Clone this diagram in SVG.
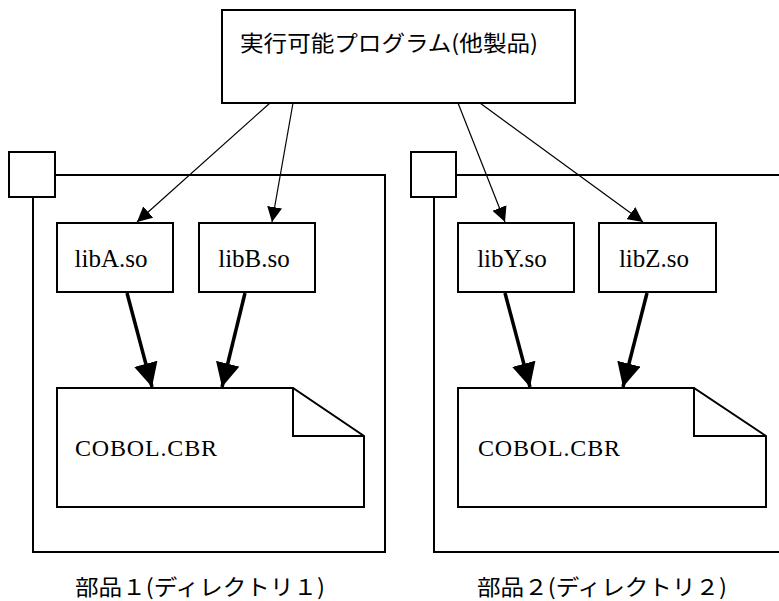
<svg xmlns="http://www.w3.org/2000/svg" width="779" height="601" viewBox="0 0 779 601">
<style>
.box{fill:#fff;stroke:#000;stroke-width:2}
.frame{fill:none;stroke:#000;stroke-width:2}
.jp{font-family:"Noto Sans CJK JP","Noto Sans CJK SC",sans-serif;font-size:22px;fill:#000}
.lib{font-family:"Liberation Serif",serif;font-size:25px;fill:#000;text-anchor:middle}
.mono{font-family:"Liberation Serif",serif;font-size:24px;fill:#000}
.thin{stroke:#000;stroke-width:1.2;fill:none}
.thick{stroke:#000;stroke-width:3.5;fill:none}
</style>
<defs>
<marker id="ah" viewBox="0 0 10 10" refX="10" refY="5" markerWidth="15" markerHeight="15" markerUnits="userSpaceOnUse" orient="auto">
<path d="M0,0 L10,5 L0,10 z" fill="#000"/>
</marker>
<marker id="ahb" viewBox="0 0 10 10" refX="10" refY="5" markerWidth="24" markerHeight="24" markerUnits="userSpaceOnUse" orient="auto">
<path d="M0,0 L10,5 L0,10 z" fill="#000"/>
</marker>
</defs>
<rect width="779" height="601" fill="#fff"/>

<g id="package1">
<path class="frame" d="M55,175 H385 V552 H33 V197"/>
<rect class="box" x="9" y="152" width="46" height="45"/>
<text class="jp" x="75" y="595" textLength="250" lengthAdjust="spacingAndGlyphs">部品１(ディレクトリ１)</text>
</g>

<g id="package2">
<path class="frame" d="M456,175 H781 M434,197 V552 H781"/>
<rect class="box" x="411" y="152" width="45" height="45"/>
<text class="jp" x="477" y="595" textLength="250" lengthAdjust="spacingAndGlyphs">部品２(ディレクトリ２)</text>
</g>

<g id="program">
<rect class="box" x="222" y="10" width="353" height="93"/>
<text class="jp" x="240" y="51" textLength="298" lengthAdjust="spacingAndGlyphs">実行可能プログラム(他製品)</text>
</g>

<g id="libA">
<rect class="box" x="57" y="223" width="116" height="69"/>
<text class="lib" x="111" y="267">libA.so</text>
</g>
<g id="libB">
<rect class="box" x="199" y="223" width="116" height="69"/>
<text class="lib" x="254" y="267">libB.so</text>
</g>
<g id="libY">
<rect class="box" x="458" y="223" width="116" height="69"/>
<text class="lib" x="512" y="267">libY.so</text>
</g>
<g id="libZ">
<rect class="box" x="599" y="223" width="117" height="69"/>
<text class="lib" x="654" y="267">libZ.so</text>
</g>

<g id="cobol1">
<path class="box" d="M57,388 H293 L364,436 V507 H57 Z"/>
<path class="frame" d="M293,388 V436 H364"/>
<text class="mono" x="75" y="456" textLength="142" lengthAdjust="spacing">COBOL.CBR</text>
</g>
<g id="cobol2">
<path class="box" d="M458,388 H694 L766,436 V507 H458 Z"/>
<path class="frame" d="M694,388 V436 H766"/>
<text class="mono" x="478" y="456" textLength="142" lengthAdjust="spacing">COBOL.CBR</text>
</g>

<g id="connectors">
<line class="thin" x1="270" y1="103" x2="137" y2="222" marker-end="url(#ah)"/>
<line class="thin" x1="293" y1="103" x2="272" y2="222" marker-end="url(#ah)"/>
<line class="thin" x1="458" y1="103" x2="505" y2="222" marker-end="url(#ah)"/>
<line class="thin" x1="480" y1="103" x2="643" y2="222" marker-end="url(#ah)"/>
<line class="thick" x1="127" y1="293" x2="152" y2="387" marker-end="url(#ahb)"/>
<line class="thick" x1="245" y1="293" x2="222" y2="387" marker-end="url(#ahb)"/>
<line class="thick" x1="505" y1="293" x2="530" y2="387" marker-end="url(#ahb)"/>
<line class="thick" x1="647" y1="293" x2="623" y2="387" marker-end="url(#ahb)"/>
</g>
</svg>
